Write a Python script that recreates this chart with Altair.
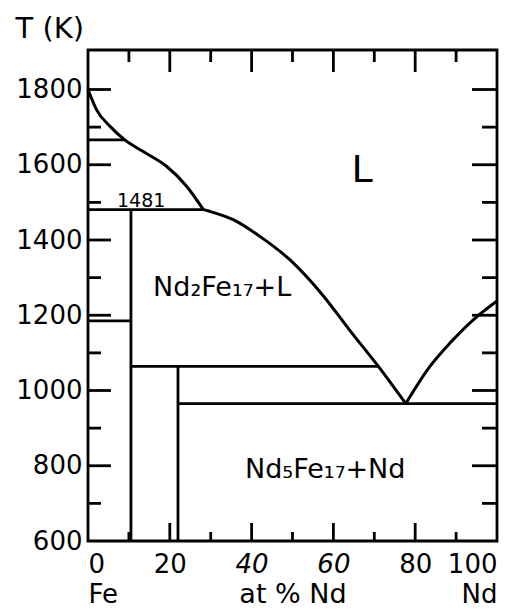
import altair as alt
import pandas as pd

# ---------------- data ----------------
# liquidus, Fe side (at% Nd, T in K)
liq_fe_x = [0, 2.1, 5.4, 9.0, 13.5, 19.2, 24.1, 28.2]
liq_fe_t = [1800, 1746, 1702, 1666, 1635, 1596, 1543, 1481]
# liquidus, Nd2Fe17 / Nd5Fe17 side down to eutectic
liq_mid_x = [28.2, 29.5, 35.5, 42.1, 49.4, 57.5, 64.0, 71.0, 77.7]
liq_mid_t = [1481, 1477, 1454, 1409, 1347, 1252, 1160, 1064, 965]
# liquidus, Nd side
liq_nd_x = [77.7, 83.6, 88.5, 94.2, 100]
liq_nd_t = [965, 1064, 1126, 1188, 1238]

# straight phase boundaries (x1, x2, T1, T2)
seg_x1 = [0, 0, 0, 10.5, 22, 10.5, 22]
seg_x2 = [9.0, 28.2, 10.5, 71.0, 100, 10.5, 22]
seg_t1 = [1666, 1481, 1185, 1064, 965, 600, 600]
seg_t2 = [1666, 1481, 1185, 1064, 965, 1481, 1064]

# tick values
t_major = [800, 1000, 1200, 1400, 1600, 1800]
t_minor = [700, 900, 1100, 1300, 1500, 1700]
x_major = [20, 40, 60, 80]
x_minor = [10, 30, 50, 70, 90]
t_labels = [600, 800, 1000, 1200, 1400, 1600, 1800]
x_labels = [0, 20, 40, 60, 80, 100]

# region labels
lab_text = ["L", "Nd\u2082Fe\u2081\u2087+L", "Nd\u2085Fe\u2081\u2087+Nd", "1481"]
lab_x = [67, 32.8, 58, 13]
lab_t = [1555, 1251, 768, 1488]
lab_size = [38, 27, 27, 19]

# ---------------- chart ----------------
W, H = 409, 491
FONT = "DejaVu Sans"
LW = 2.8

xs = alt.Scale(domain=[0, 100], nice=False, zero=False)
ys = alt.Scale(domain=[600, 1905], nice=False, zero=False)

curves = pd.DataFrame({
    "x": liq_fe_x + liq_mid_x + liq_nd_x,
    "T": liq_fe_t + liq_mid_t + liq_nd_t,
    "seg": ["fe"] * len(liq_fe_x) + ["mid"] * len(liq_mid_x) + ["nd"] * len(liq_nd_x),
})
segs = pd.DataFrame({"x": seg_x1, "x2": seg_x2, "T": seg_t1, "T2": seg_t2})
labels = pd.DataFrame({"x": lab_x, "T": lab_t, "text": lab_text, "size": lab_size})

x_axis = alt.Axis(
    values=x_labels, title="at % Nd", ticks=False, tickSize=0, domain=False, grid=False,
    labelFont=FONT, labelFontSize=26, labelColor="black", labelPadding=10,
    labelExpr="datum.value == 0 ? ['0', 'Fe'] : datum.value == 100 ? ['100', 'Nd'] : datum.label",
    labelLineHeight=30, labelFlush=True, labelOverlap=False,
    labelFontStyle={"condition": {"test": "datum.value == 40 || datum.value == 60", "value": "italic"}, "value": "normal"},
    titleFont=FONT, titleFontSize=27, titleFontWeight="normal", titleColor="black",
    titleBaseline="alphabetic", titleY=61,
)
y_axis = alt.Axis(
    values=t_labels, format="d", title="T (K)", ticks=False, tickSize=0, domain=False, grid=False,
    labelFont=FONT, labelFontSize=26, labelColor="black", labelPadding=6, labelOverlap=False,
    titleFont=FONT, titleFontSize=29, titleFontWeight="normal", titleColor="black",
    titleAngle=0, titleAlign="left", titleBaseline="alphabetic", titleX=-73, titleY=-13,
)

lines = alt.Chart(curves).mark_line(color="black", strokeWidth=LW + 0.2, interpolate="monotone").encode(
    x=alt.X("x:Q", scale=xs, axis=x_axis),
    y=alt.Y("T:Q", scale=ys, axis=y_axis),
    detail="seg:N",
)

rules = alt.Chart(segs).mark_rule(color="black", strokeWidth=LW).encode(
    x=alt.X("x:Q", scale=xs), x2="x2:Q",
    y=alt.Y("T:Q", scale=ys), y2="T2:Q",
)

def yticks(vals, x0, x1):
    return alt.Chart(pd.DataFrame({"T": vals})).mark_rule(color="black", strokeWidth=LW).encode(
        y=alt.Y("T:Q", scale=ys), x=alt.value(x0), x2=alt.value(x1))

def xticks(vals, y0, y1):
    return alt.Chart(pd.DataFrame({"x": vals})).mark_rule(color="black", strokeWidth=LW).encode(
        x=alt.X("x:Q", scale=xs), y=alt.value(y0), y2=alt.value(y1))

ticks = [
    yticks(t_major, 0, 23), yticks(t_minor, 0, 13),
    yticks(t_major, W - 25, W), yticks(t_minor, W - 15, W),
    xticks(x_major, 0, 22), xticks(x_minor, 0, 12),
    xticks(x_major, H - 18, H), xticks(x_minor, H - 9, H),
]

texts = alt.Chart(labels).mark_text(font=FONT, color="black", align="center", baseline="alphabetic").encode(
    x=alt.X("x:Q", scale=xs),
    y=alt.Y("T:Q", scale=ys),
    text="text:N",
    size=alt.Size("size:Q", scale=None, legend=None),
)

chart = alt.layer(lines, rules, *ticks, texts).properties(
    width=W, height=H,
    autosize=alt.AutoSizeParams(type="none"),
    padding={"left": 80, "top": 42, "right": 4, "bottom": 69},
    background="white",
).configure_view(stroke="black", strokeWidth=LW)

chart.save("out.html", embed_options={"renderer": "svg", "actions": False})
